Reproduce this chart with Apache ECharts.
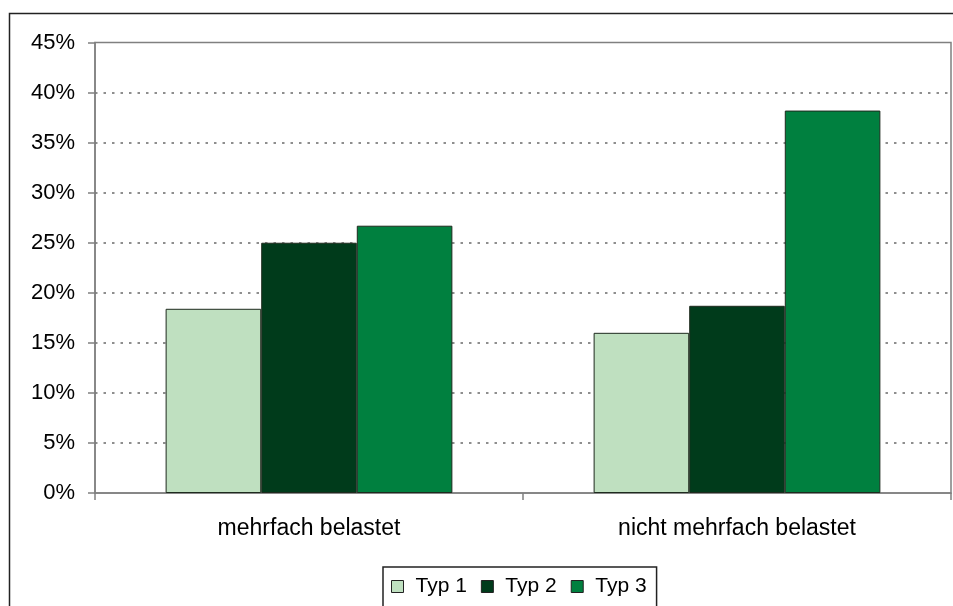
<!DOCTYPE html>
<html>
<head>
<meta charset="utf-8">
<script src="https://cdn.jsdelivr.net/npm/echarts@6/dist/echarts.min.js"></script>
<style>
  html, body { margin: 0; padding: 0; background: #fff; }
  #chart { width: 953px; height: 606px; }
</style>
</head>
<body>
<div id="chart"></div>
<script>
// Anteile je Typ, getrennt nach Belastungsgruppe (in %)
const categories = ['mehrfach belastet', 'nicht mehrfach belastet'];
const seriesNames = ['Typ 1', 'Typ 2', 'Typ 3'];
const typ1 = [18.4, 16.0];
const typ2 = [25.0, 18.7];
const typ3 = [26.7, 38.2];
const colors = ['#bfe0c0', '#003b1b', '#00803f'];

const FONT = 'Arial, "Liberation Sans", sans-serif';
const chart = echarts.init(document.getElementById('chart'), null, { renderer: 'canvas' });

const values = [typ1, typ2, typ3];

chart.setOption({
  animation: false,
  backgroundColor: '#fff',
  graphic: [{
    type: 'rect',
    shape: { x: 9.5, y: 13.5, width: 1000, height: 700 },
    style: { fill: 'none', stroke: '#222', lineWidth: 1.5 },
    silent: true
  }],
  grid: {
    left: 95, right: 2, top: 42.5, bottom: 113,
    show: true, borderColor: '#808080', borderWidth: 1.5, backgroundColor: 'transparent'
  },
  legend: {
    left: 383, top: 567,
    orient: 'horizontal',
    itemWidth: 12, itemHeight: 12, itemGap: 14,
    padding: [9, 10, 30, 8],
    borderColor: '#222', borderWidth: 1.5,
    icon: 'rect',
    textStyle: { fontFamily: FONT, fontSize: 21, color: '#000', padding: [0, 0, 0, 7] },
    itemStyle: { borderColor: '#222', borderWidth: 1 },
    data: seriesNames
  },
  xAxis: {
    type: 'category',
    data: categories,
    axisLine: { lineStyle: { color: '#808080', width: 1.5 } },
    axisTick: { show: true, alignWithLabel: false, length: 7, lineStyle: { color: '#808080', width: 1.5 } },
    axisLabel: { fontFamily: FONT, fontSize: 23, color: '#000', margin: 24 },
    splitLine: { show: false }
  },
  yAxis: {
    type: 'value',
    min: 0, max: 45, interval: 5,
    axisLine: { show: true, lineStyle: { color: '#808080', width: 1.5 } },
    axisTick: { show: true, length: 7, lineStyle: { color: '#808080', width: 1.5 } },
    axisLabel: { fontFamily: FONT, fontSize: 22, color: '#000', margin: 20, padding: [4, 0, 0, 0], formatter: '{value}%' },
    splitLine: {
      show: true, showMinLine: false, showMaxLine: false,
      lineStyle: { color: '#6a6a6a', width: 1.6, type: [2.5, 6] }
    }
  },
  series: seriesNames.map((name, i) => ({
    name,
    type: 'bar',
    data: values[i],
    barGap: '0%',
    barCategoryGap: '33%',
    itemStyle: { color: colors[i], borderColor: '#1e2a1e', borderWidth: 1 }
  }))
});
</script>
</body>
</html>
